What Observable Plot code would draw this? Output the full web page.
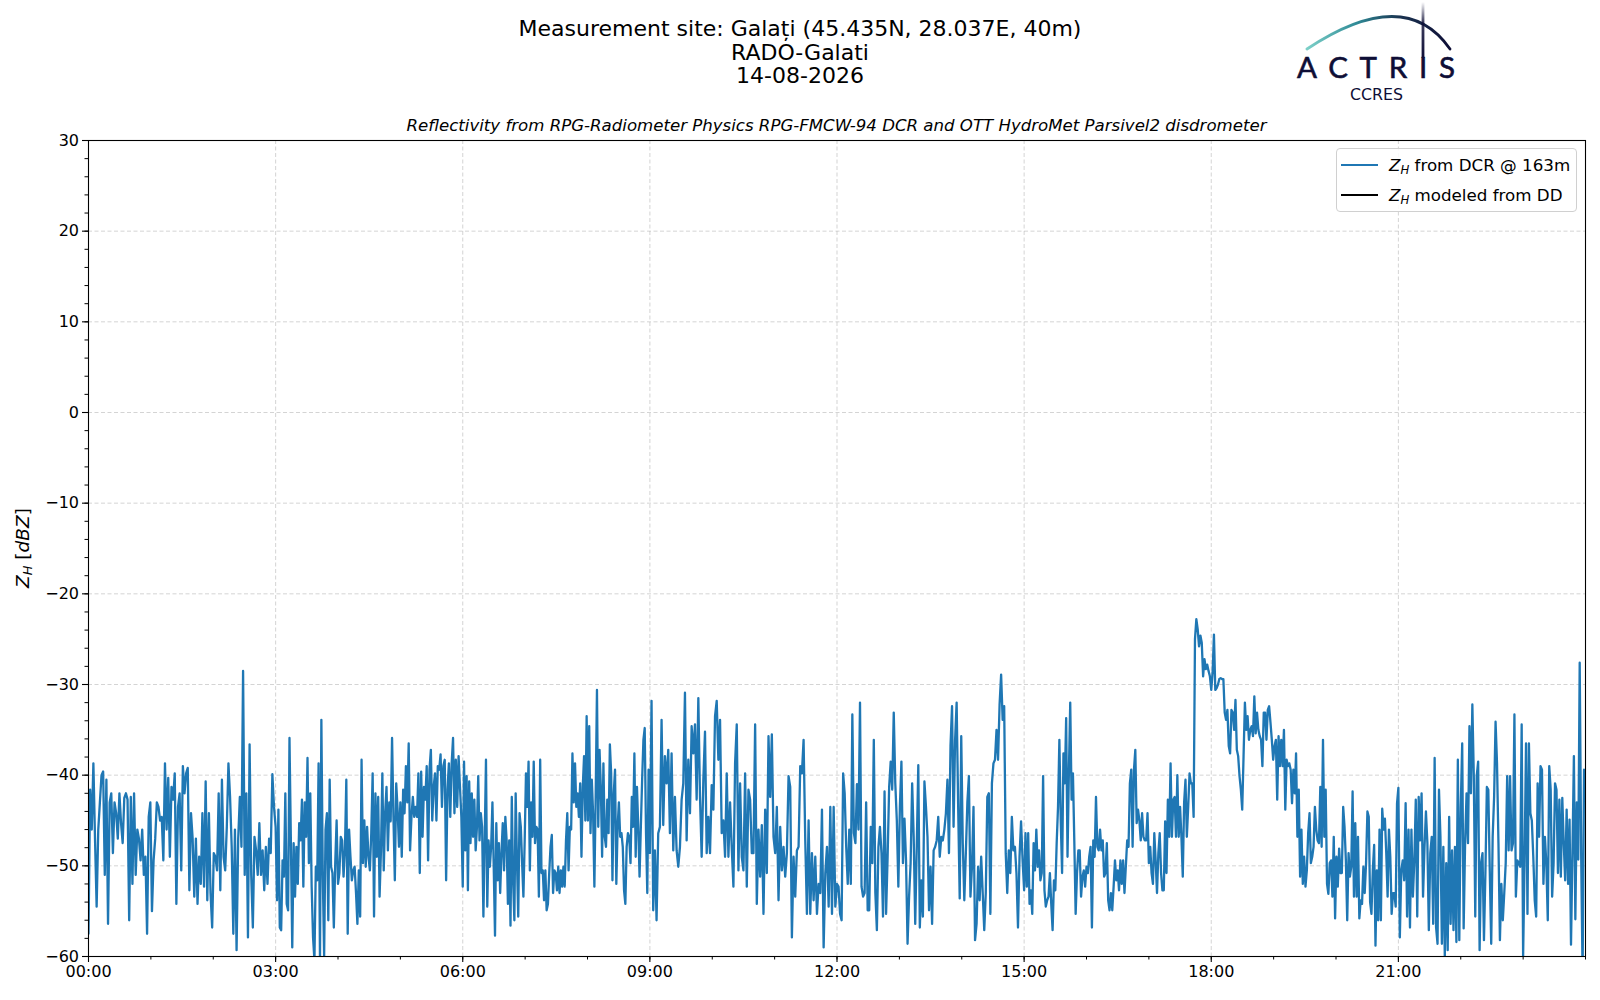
<!DOCTYPE html>
<html>
<head>
<meta charset="utf-8">
<script src="https://cdn.jsdelivr.net/npm/d3@7"></script>
<script src="https://cdn.jsdelivr.net/npm/@observablehq/plot@0.6"></script>
<style>
  body { margin: 0; background: #fff; font-family: "DejaVu Sans", sans-serif; color: #000; }
  #wrap { position: relative; width: 1600px; height: 1000px; overflow: hidden; background: #fff; }
  .title { position: absolute; left: 0; top: 17px; width: 1600px; text-align: center; font-size: 22px; line-height: 23.5px; }
  .subtitle { position: absolute; left: 88px; top: 116px; width: 1497px; text-align: center; font-size: 16.6px; line-height: 19px; font-style: italic; white-space: nowrap; }
  #chart { position: absolute; left: 0; top: 128px; }
  .ylabel { position: absolute; left: 22px; top: 548px; transform: translate(-50%, -50%) rotate(-90deg); font-size: 18.5px; white-space: nowrap; }
  .ylabel sub, .legend sub { font-size: 0.7em; vertical-align: -0.28em; line-height: 0; }
  .legend { position: absolute; left: 1336px; top: 148px; width: 239px; height: 62px; border: 1px solid #d0d0d0; border-radius: 4px; background: rgba(255,255,255,0.85); font-size: 16.7px; }
  .legend .row { position: absolute; left: 0; height: 20px; display: flex; align-items: center; white-space: nowrap; }
  .legend .sw { display: inline-block; width: 37px; height: 2.2px; margin-left: 4px; margin-right: 11px; }
  #logo { position: absolute; left: 0; top: 0; }
</style>
</head>
<body>
<div id="wrap">
  <div class="title">Measurement site: Galați (45.435N, 28.037E, 40m)<br>RADO-Galati<br>14-08-2026</div>
  <svg id="logo" width="1600" height="112" viewBox="0 0 1600 112">
    <defs>
      <linearGradient id="arcg" x1="1307" y1="0" x2="1450" y2="0" gradientUnits="userSpaceOnUse">
        <stop offset="0" stop-color="#7cd0c8"/>
        <stop offset="0.35" stop-color="#2f8a96"/>
        <stop offset="0.65" stop-color="#1a3350"/>
        <stop offset="1" stop-color="#0e0e36"/>
      </linearGradient>
      <linearGradient id="vg" x1="0" y1="2" x2="0" y2="58" gradientUnits="userSpaceOnUse">
        <stop offset="0" stop-color="#0e0e36" stop-opacity="0"/>
        <stop offset="0.35" stop-color="#0e0e36" stop-opacity="0.8"/>
        <stop offset="1" stop-color="#0e0e36"/>
      </linearGradient>
    </defs>
    <path d="M1307,49 Q1405,-16 1450,49" fill="none" stroke="url(#arcg)" stroke-width="2.8" stroke-linecap="round"/>
    <line x1="1423" y1="2" x2="1423" y2="58" stroke="url(#vg)" stroke-width="2.8"/>
    <text x="1297" y="78" font-family="Lato, 'DejaVu Sans', sans-serif" font-size="29.5" fill="#0e0e36" stroke="#0e0e36" stroke-width="0.6" textLength="158" lengthAdjust="spacing">ACTRIS</text>
    <text x="1350" y="100" font-family="'DejaVu Sans', sans-serif" font-size="16" fill="#0e0e36" textLength="53" lengthAdjust="spacingAndGlyphs">CCRES</text>
  </svg>
  <div id="chart"></div>
  <div class="subtitle">Reflectivity from RPG-Radiometer Physics RPG-FMCW-94 DCR and OTT HydroMet Parsivel2 disdrometer</div>
  <div class="ylabel"><i>Z</i><sub><i>H</i></sub> [<i>dBZ</i>]</div>
  <div class="legend">
    <div class="row" style="top:6px"><span class="sw" style="background:#1f77b4"></span><span><i>Z</i><sub><i>H</i></sub> from DCR @ 163m</span></div>
    <div class="row" style="top:36px"><span class="sw" style="background:#000"></span><span><i>Z</i><sub><i>H</i></sub> modeled from DD</span></div>
  </div>
</div>
<script>
// Z_H from DCR @ 163m, dBZ, in 3-hour blocks (values spread evenly within each block)
const dcr_0000 = [-57.5,-41.6,-46,-38.7,-47,-54.5,-46,-43,-40,-39.6,
-51,-40.5,-56.4,-43,-42,-48.6,-43,-44.2,-47,-42,
-45.3,-47.5,-42.5,-42,-42.7,-56,-42.4,-52,-42,-51,
-46,-47,-49.4,-46,-51,-49,-57.5,-44.6,-43,-55,
-49.4,-47,-43,-43.5,-45,-44.6,-49.4,-38.7,-46,-40.3,
-49,-41.3,-42.7,-39.8,-54.2,-43.5,-42,-50.5,-39,-42,
-39.8,-39.2,-52.7,-44.2,-47,-53.4,-47,-54.2,-49,-52,
-44.2,-52.3,-40.7,-53.8,-44.2,-53,-56.8,-48.6,-49,-50.5,
-42,-52.7,-40.5,-49,-50.5,-45.7,-38.7,-42.4,-47.9,-57.5,
-46,-59.3,-47,-42.4,-47.9,-28.5,-51,-42,-57.9,-36.6,
-51,-56.8,-46.8,-48.3,-51,-45.3,-51,-48.3,-52.7,-47.9,
-52,-47,-48.6,-39.9,-43.5];
const dcr_0300 = [-45.7,-53.8,-43.8,-56.8,-57.1,-49.4,-51.2,-42,-54.2,-54.9,
-35.9,-47.2,-59,-47.5,-53.4,-47.9,-52,-45.3,-47.2,-42.7,
-52.3,-43,-46.8,-38.1,-49.7,-42,-52.3,-57.9,-60.4,-50.1,
-51.6,-38.7,-60.4,-33.9,-50.8,-60,-46,-44.2,-56,-40.5,
-50.1,-50.8,-56.8,-49.7,-45,-52,-50.8,-46.8,-47.2,-51.2,
-48.3,-40.5,-57.5,-46,-49,-51.6,-50.5,-50.1,-53,-56.4,
-50.5,-55.6,-38.3,-49.7,-45,-50.1,-45.7,-49,-50.5,-46.4,
-39.8,-55.6,-42,-49,-42.4,-53.4,-48.3,-39.8,-50.5,-44.2,
-41.3,-48.3,-43,-45.1,-35.9,-44.6,-51.6,-40.9,-43.8,-47.9,
-43,-49,-41.6,-44.2,-39,-43,-36.5,-48.3,-44.6,-42.4,
-44.6,-43.5,-44.6,-39.8,-50.8,-39.6,-46.8,-41.3,-42.7,-39,
-49.4,-39.4,-37.2,-45,-41.3,-39.8,-45,-39,-39.4,-37.7,
-43.5,-39,-38.3,-51.6,-41.6,-38.7,-44.6,-38.7,-35.9,-44.2,
-38.3,-43.5,-37.9,-41.3,-44.6];
const dcr_0600 = [-52.3,-38.5,-48.3,-40.1,-52.7,-40.7,-47.5,-42,-46.8,-42.7,
-48.3,-45.7,-40.1,-47.2,-44.2,-45.7,-55.6,-47.2,-38.3,-54.5,
-47.2,-50.1,-47.9,-43,-50.1,-57.7,-45.3,-51.6,-47.5,-53,
-48.6,-45.3,-50.5,-44.6,-47.2,-54.2,-47.2,-56.6,-42.4,-51.6,
-56,-42,-49.4,-55.6,-44.2,-45.7,-49.7,-53.4,-47.2,-39.8,
-43.5,-38.5,-50.5,-43,-46.8,-38.5,-47.5,-45.7,-46,-53.4,
-38.3,-50.8,-50.5,-53.8,-50.5,-54.9,-54.2,-50.8,-47.9,-46.6,
-53,-50.5,-50.8,-52.7,-50.1,-53,-50.5,-52.3,-50.1,-52.3,
-47.2,-44.2,-50.5,-45.7,-46,-37.6,-43,-38.7,-43.5,-42,
-44.6,-40.9,-49,-41.3,-37.9,-45,-33.5,-45,-34.6,-46.4,
-40.5,-44.2,-52.3,-42.4,-30.6,-45.7,-37.2,-41.3,-49,-38.7,
-46.8,-47.9,-42.7,-46.4,-36.6,-39.8,-51.6,-42,-39.4,-52,
-45.7,-43,-46.8,-46.4,-47.9,-52.7,-54.2,-47.9,-46.4,-46.8,
-49.7,-42.4,-45.7,-37.6,-49,-41.3,-45.7,-51.2,-45.7,-40.5,
-36.1,-34.8,-46.4,-53,-39.4];
const dcr_0900 = [-48.6,-31.8,-54.9,-48.3,-56,-46.4,-45.7,-33.9,-45.5,-37.9,
-40.9,-37.2,-46.4,-37.6,-48.3,-42.4,-48.3,-50.1,-47.9,-42.7,
-40.9,-30.9,-47.2,-38.3,-44.2,-34.6,-37.6,-34.4,-42.7,-31.5,
-42.4,-49,-40.5,-35.2,-48.6,-44.6,-48.6,-41.1,-43.8,-33.5,
-31.8,-38.3,-33.9,-46.4,-45,-49,-39.8,-49,-43,-48,
-52.3,-38.7,-34.4,-50.5,-40.9,-49,-50.5,-39.8,-52.3,-41.6,
-42.7,-48.6,-48.6,-34.4,-54.2,-46,-51.2,-45.5,-55.3,-43.8,
-50.8,-35.7,-42.4,-35.5,-46.8,-48.6,-43.5,-53.8,-45.7,-50.5,
-47.9,-51.2,-48.6,-40.1,-41.3,-57.9,-49,-53.4,-48.3,-47.9,
-39,-39.8,-36.1,-47.2,-55.3,-45,-55.3,-48.6,-53.8,-49,
-55.3,-52,-53,-43.8,-59,-50.8,-47.9,-54.5,-43.5,-55.3,
-43.5,-54.5];
const dcr_1200 = [-52,-52.3,-55.3,-56,-39.8,-42,-47.9,-52,-46,-52,
-33.3,-46.4,-47.5,-41,-46,-32,-52.3,-53.4,-53,-43,
-54.9,-54.9,-45.7,-49.7,-36.1,-53,-57.1,-47.9,-45.7,-48.6,
-55.6,-41.8,-55.3,-49,-41.3,-38.5,-41.6,-33.1,-40.9,-45,
-52.3,-43.5,-38.5,-49.7,-44.8,-49.4,-58.6,-53.4,-49.7,-40.9,
-46.8,-56.4,-47.9,-38.9,-56.8,-51.6,-55.6,-40.7,-43.5,-46.8,
-54.9,-50.1,-56.4,-48.3,-47.9,-47.2,-44.6,-49,-46.8,-47.2,
-46,-44.2,-40.5,-48.6,-36.8,-32.4,-45.7,-36.1,-32,-43.5,
-53.6,-35.7,-47.5,-53.8,-48.6,-43,-40.1,-53.4,-50.1,-43.5,
-58.2,-56.4,-50.1,-53.8,-49,-53,-57.1,-53,-42.4,-42,
-55.3,-40.9,-38.7,-38.3,-35,-38.3,-32.2,-28.9,-33.9,-32.4,
-48.6,-53,-48.3,-50.8,-44.6,-48.3,-47.9,-50.8,-56.8,-49,
-45.1,-49.4];
const dcr_1500 = [-52.7,-46.4,-52.3,-46.4,-54.2,-52.7,-55.3,-47.5,-50.5,-46,
-50.1,-48.3,-51.6,-50.8,-40.1,-52.7,-54.5,-53.8,-53.4,-50.8,
-54.2,-57.1,-51.6,-52.7,-47.5,-43.5,-36.1,-45,-50.8,-37.6,
-40.9,-33.7,-49,-39.8,-32,-42.7,-39.8,-47.2,-55.3,-50.8,
-48.3,-48.3,-53.4,-51.2,-50.5,-52.3,-50.1,-50.8,-49,-47.9,
-56.8,-47.2,-49,-42.4,-47.9,-48.3,-46,-48.3,-47.2,-51.2,
-50.8,-47.5,-53.8,-54.9,-53,-54.9,-52.3,-49.4,-51.6,-50.5,
-52.7,-49.4,-52,-49.4,-53,-50.1,-47.2,-47.9,-40.9,-39.4,
-47.9,-39.4,-37.2,-45.3,-43.8,-45,-47.2,-44.2,-46.8,-47.2,
-47.2,-44.2,-49.7,-47.9,-50.8,-52,-46.4,-49.4,-53,-48.6,
-46.4,-50.8,-52.7,-52.7,-45.1,-50.8,-42.7,-46.8,-38.7,-46.8,
-42.7,-42.4,-46.8,-40,-46.8,-43.5,-46.8,-51.2,-43,-40.5,
-46.8,-43.5,-39.8,-40.9,-40.9,-44.6,
-25,-22.8,-23.9,-25.8,-24.6,-25.4,-29.1,-27.2,-28.3,-27.8,-28.5,-29.1];
const dcr_1800 = [-30.6,-28.7,-24.5,-30.6,-30.4,-30,-29.4,-29.3,-29.4,-29.4,
-33.1,-33.9,-32.8,-36.8,-37.6,-32.8,-33.1,-35,-31.7,-37.2,
-37.9,-40.1,-41.6,-43.8,-37.9,-32,-35,-33.5,-36.1,-35,
-34.6,-35.7,-31.3,-35.4,-33.1,-35,-35.7,-36.1,-39,-33.1,
-33.1,-36.1,-32.8,-32.4,-34.2,-36.1,-38.3,-36.8,-36.1,-42.7,
-35.7,-39,-36.1,-39,-35,-43.8,-38.3,-39,-38.7,-39.4,
-43.1,-39.4,-42,-37.6,-46.8,-41.6,-51.2,-46,-52,-49,
-52.3,-50.5,-46.4,-44.2,-49.7,-49,-47.9,-43.5,-46,-47.2,
-47.5,-41.3,-47.9,-36.1,-46.8,-41.6,-52,-53.1,-49.7,
-49.4,-53.4,-46.8,-55.8,-49,-52.3,-48.1,-50.8,-50.8,-43.5,
-45.7,-49.4,-56,-48.6,-51.2,-50.1,-41.8,-53.4,-45.3,-53.4,
-46.8,-55.8,-53.8,-54.2,-50.1,-53,-49.7,-44,-44.6,-54,
-55.3,-50.5,-47.7,-58.8,-50.5,-56,-46,-56,-43.7,-46,
-44.8,-48.6,-53.4,-46,-49,-55.3,-53,-53,-54.5,-43.1];
const dcr_2100 = [-41.4,-57.9,-50.5,-49.4,-51.6,-43.1,-55.6,-46,-56.8,-46,
-53.4,-49.4,-42.7,-55.6,-42.4,-47.2,-42,
-53.4,-48,-44,-47.5,-57.1,-48.6,-46.8,-56.4,-38.1,-56.8,
-58.6,-41.6,-46.8,-58.6,-47.9,-60,-49.7,-59.3,-44.6,-56.4,
-48.3,-57.1,-47.9,-58.4,-38.3,-58.2,-43.5,-36.5,-56.9,-47.5,
-42,-47.5,-34.6,-42,-32.2,-40.1,-55.6,-40.1,-38.5,-59.3,
-49.7,-48.6,-58.2,-50.8,-41.3,-41.6,-50.5,-58.6,-46.8,-42.4,
-34.1,-38.7,-47.5,-58.2,-52,-56,-53,-49.7,-40.1,-48.3,
-40.1,-48.3,-47.5,-33.3,-53.4,-49.4,-49.7,-50.1,-34.4,-60,
-49.4,-36.5,-55.3,-36.5,-44.2,-45,-49,-53.8,-55.6,-40.9,
-46.8,-39,-39.4,-52,-46.8,-49.7,-56,-39,-41.6,-53.4,
-49.7,-40.9,-41.6,-50.8,-42.7,-51.2,-42.5,-47.5,-51.6,-43.8,
-52,
-44.9,-58.7,-48.6,-37.9,-55.9,-43,-49.3,-27.6,-48.6,-62,-39.4];

const blockStarts = [0, 180, 360, 540, 720, 900, 1080, 1260]; // minutes after 00:00
const blocks = [dcr_0000, dcr_0300, dcr_0600, dcr_0900, dcr_1200, dcr_1500, dcr_1800, dcr_2100];

const xTicks = [0, 180, 360, 540, 720, 900, 1080, 1260];
const xTickLabels = ["00:00", "03:00", "06:00", "09:00", "12:00", "15:00", "18:00", "21:00"];
const xMinor = d3.range(0, 1441, 60);
const yTicks = [-60, -50, -40, -30, -20, -10, 0, 10, 20, 30];
const yMinor = d3.range(-60, 31, 2);

const data = blocks.flatMap((arr, b) => arr.map((z, j) => ({t: blockStarts[b] + j * 180 / arr.length, z})));

const fmtY = d => d < 0 ? "\u2212" + Math.abs(d) : String(d);
const fmtX = d => xTickLabels[xTicks.indexOf(d)];

const chart = Plot.plot({
  width: 1600,
  height: 872,
  marginTop: 12,
  marginBottom: 44,
  marginLeft: 88,
  marginRight: 15,
  style: {fontFamily: "DejaVu Sans, sans-serif", fontSize: "16px", color: "#000", background: "transparent", overflow: "visible"},
  x: {domain: [0, 1440], label: null},
  y: {domain: [-60, 30], label: null},
  marks: [
    Plot.gridX(xTicks, {stroke: "#b0b0b0", strokeOpacity: 0.55, strokeWidth: 1, strokeDasharray: "4,2.5"}),
    Plot.gridY(yTicks, {stroke: "#b0b0b0", strokeOpacity: 0.55, strokeWidth: 1, strokeDasharray: "4,2.5"}),
    Plot.line(data, {x: "t", y: "z", stroke: "#1f77b4", strokeWidth: 2.3, clip: true}),
    Plot.axisX(xMinor, {tickSize: 3.5, tickFormat: () => "", label: null, strokeWidth: 1}),
    Plot.axisX(xTicks, {tickSize: 6, tickPadding: 3.5, tickFormat: fmtX, label: null, fontSize: 16, strokeWidth: 1.1}),
    Plot.axisY(yMinor, {tickSize: 3.5, tickFormat: () => "", label: null, strokeWidth: 1}),
    Plot.axisY(yTicks, {tickSize: 6, tickPadding: 3.5, tickFormat: fmtY, label: null, fontSize: 16, strokeWidth: 1.1}),
    Plot.frame({stroke: "black", strokeWidth: 1.1})
  ]
});
document.getElementById("chart").appendChild(chart);
</script>
</body>
</html>
